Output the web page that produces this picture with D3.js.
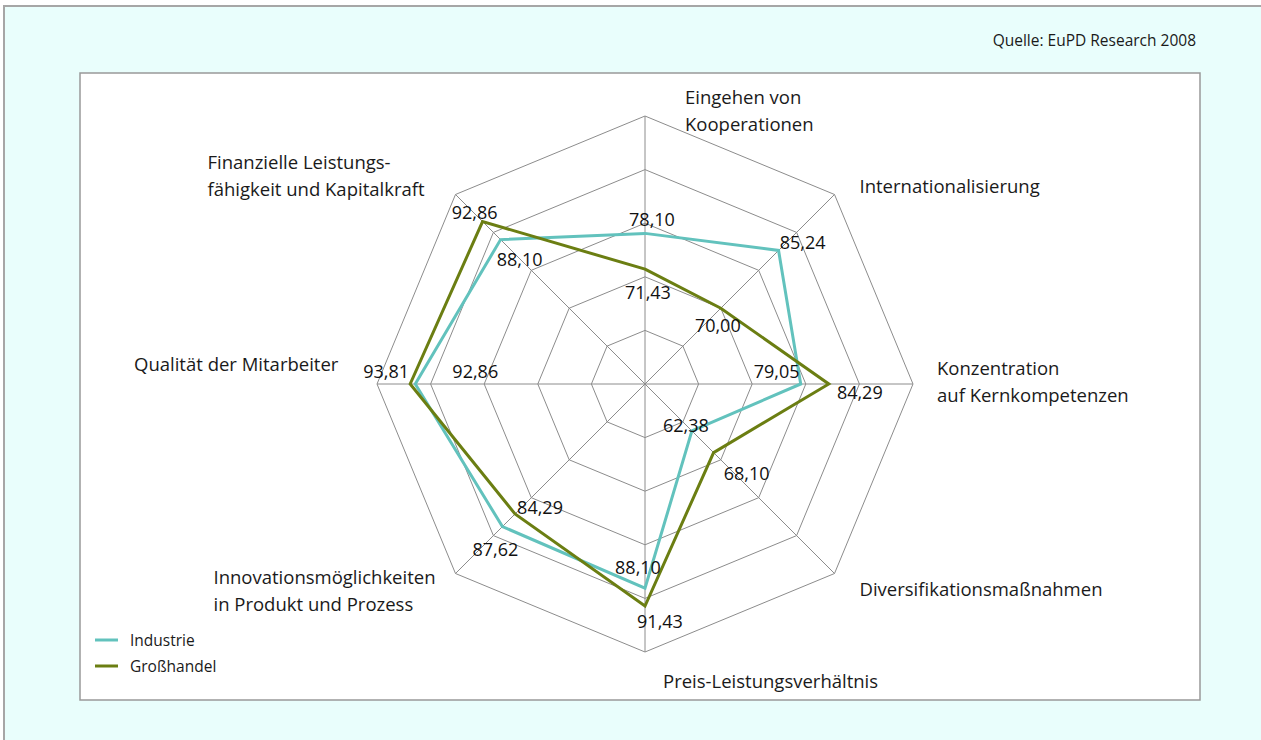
<!DOCTYPE html>
<html>
<head>
<meta charset="utf-8">
<script src="https://cdn.jsdelivr.net/npm/d3@7"></script>
<style>
  html, body { margin: 0; padding: 0; background: #fff; overflow: hidden; }
  svg { display: block; font-family: "Open Sans", "Noto Sans", sans-serif; }
</style>
</head>
<body>
<div id="chart"></div>
<script>
// axes, clockwise from the top
var categories = [
  ["Eingehen von", "Kooperationen"],
  ["Internationalisierung"],
  ["Konzentration", "auf Kernkompetenzen"],
  ["Diversifikationsmaßnahmen"],
  ["Preis-Leistungsverhältnis"],
  ["Innovationsmöglichkeiten", "in Produkt und Prozess"],
  ["Qualität der Mitarbeiter"],
  ["Finanzielle Leistungs-", "fähigkeit und Kapitalkraft"]
];
var seriesNames = ["Industrie", "Großhandel"];
var industrie = [78.10, 85.24, 79.05, 62.38, 88.10, 87.62, 92.86, 88.10];
var grosshandel = [71.43, 70.00, 84.29, 68.10, 91.43, 84.29, 93.81, 92.86];
var ringValues = [60, 70, 80, 90, 100];
var source = "Quelle: EuPD Research 2008";

// layout bits (kept apart from the data)
var colors = ["#62c2bd", "#6b7e12"];
// where each category label block starts, relative to the outer vertex
var catOffset = [[40, -19], [25, -8], [24, -16], [25, 16], [18, 29], [-242, 4], [-243, -20], [-248, -32]];
// value label nudges relative to the point, per series
var valOffset = [
  [[7, -13], [24, -7], [-24, -12], [-6, -5], [-7, -20], [-7, 23], [60, -12], [19, 20]],
  [[3, 24], [-3, 18], [31, 9], [33, 21], [15, 16], [25, -6], [-24, -12], [-8, -9]]
];

var W = 1261, H = 740;
var cx = 645, cy = 384, R = 268;

var svg = d3.select("#chart").append("svg")
  .attr("width", W)
  .attr("height", H);

// page background with its grey edge (right and bottom run off the page)
svg.append("rect")
  .attr("x", 4).attr("y", 6)
  .attr("width", W + 100).attr("height", H + 100)
  .attr("fill", "#e9fefc")
  .attr("stroke", "#a6a6a6")
  .attr("stroke-width", 2);

svg.append("text")
  .attr("x", 1196).attr("y", 46)
  .attr("text-anchor", "end")
  .attr("font-size", 15.5)
  .attr("fill", "#1a1a1a")
  .text(source);

// white plot box
svg.append("rect")
  .attr("x", 80).attr("y", 73)
  .attr("width", 1120).attr("height", 627)
  .attr("fill", "#fff")
  .attr("stroke", "#999")
  .attr("stroke-width", 1.5);

var r = d3.scaleLinear().domain([50, 100]).range([0, R]);
var angle = d3.scaleLinear().domain([0, categories.length]).range([0, 2 * Math.PI]);

function px(i, v) { return cx + r(v) * Math.sin(angle(i)); }
function py(i, v) { return cy - r(v) * Math.cos(angle(i)); }

var g = svg.append("g").attr("transform", "translate(" + cx + "," + cy + ")");

var radial = d3.lineRadial()
  .angle(function (d, i) { return angle(i); })
  .radius(function (d) { return r(d); })
  .curve(d3.curveLinearClosed);

// grid rings
g.selectAll(".ring")
  .data(ringValues)
  .enter()
  .append("path")
  .attr("class", "ring")
  .attr("d", function (v) { return radial(categories.map(function () { return v; })); })
  .attr("fill", "none")
  .attr("stroke", "#8c8c8c")
  .attr("stroke-width", 1);

// spokes
g.selectAll(".spoke")
  .data(categories)
  .enter()
  .append("line")
  .attr("class", "spoke")
  .attr("x1", 0).attr("y1", 0)
  .attr("x2", function (d, i) { return px(i, 100) - cx; })
  .attr("y2", function (d, i) { return py(i, 100) - cy; })
  .attr("stroke", "#8c8c8c")
  .attr("stroke-width", 1);

// category labels
var cats = svg.selectAll(".cat")
  .data(categories)
  .enter()
  .append("text")
  .attr("class", "cat")
  .attr("font-size", 18.5)
  .attr("fill", "#1a1a1a");

cats.selectAll("tspan")
  .data(function (d, i) { return d.map(function (t, k) { return { t: t, i: i, k: k }; }); })
  .enter()
  .append("tspan")
  .attr("x", function (d) { return px(d.i, 100) + catOffset[d.i][0]; })
  .attr("y", function (d) { return py(d.i, 100) + catOffset[d.i][1] + d.k * 27 + 6.5; })
  .text(function (d) { return d.t; });

// series lines
var series = [industrie, grosshandel];

g.selectAll(".series")
  .data(series)
  .enter()
  .append("path")
  .attr("class", "series")
  .attr("d", radial)
  .attr("fill", "none")
  .attr("stroke", function (d, s) { return colors[s]; })
  .attr("stroke-width", 3)
  .attr("stroke-linejoin", "miter");

// value labels
series.forEach(function (vals, s) {
  svg.selectAll(".val" + s)
    .data(vals)
    .enter()
    .append("text")
    .attr("class", "val" + s)
    .attr("x", function (v, i) { return px(i, v) + valOffset[s][i][0]; })
    .attr("y", function (v, i) { return py(i, v) + valOffset[s][i][1] + 6; })
    .attr("text-anchor", "middle")
    .attr("font-size", 18)
    .attr("fill", "#111")
    .text(function (v) { return d3.format(".2f")(v).replace(".", ","); });
});

// legend
var leg = svg.selectAll(".leg")
  .data(seriesNames)
  .enter()
  .append("g")
  .attr("class", "leg")
  .attr("transform", function (d, i) { return "translate(95," + (640 + i * 26) + ")"; });

leg.append("line")
  .attr("x1", 0).attr("x2", 23)
  .attr("stroke", function (d, i) { return colors[i]; })
  .attr("stroke-width", 3);

leg.append("text")
  .attr("x", 35).attr("y", 5.5)
  .attr("font-size", 15.5)
  .attr("fill", "#1a1a1a")
  .text(function (d) { return d; });
</script>
</body>
</html>
